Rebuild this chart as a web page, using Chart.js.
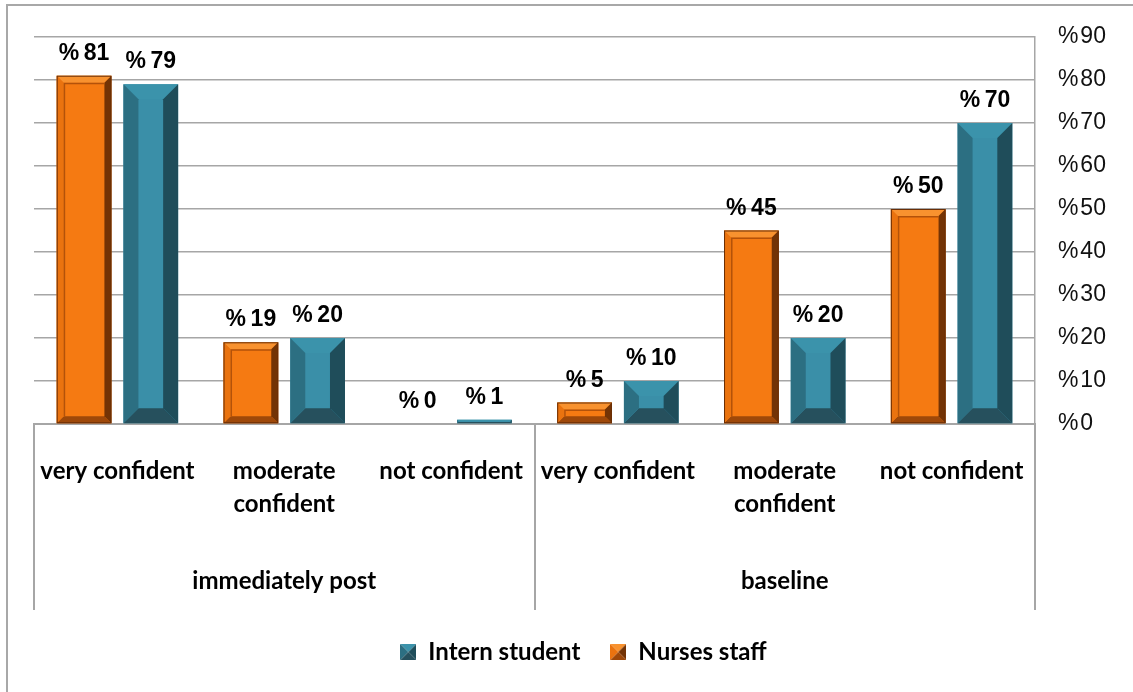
<!DOCTYPE html>
<html>
<head>
<meta charset="utf-8">
<script src="https://cdn.jsdelivr.net/npm/chart.js@4.4.1/dist/chart.umd.min.js"></script>
<style>
  body { margin: 0; background: #fff; }
  #moldura { position: absolute; left: 6px; top: 4px; width: 1300px; height: 900px;
    border-left: 2px solid #a8a8a8; border-top: 2px solid #a8a8a8; }
  canvas { position: absolute; left: 0; top: 0; }
</style>
</head>
<body>
<div id="moldura"></div>
<canvas id="grafico" width="1133" height="692"></canvas>
<script>
const categorias = ['very confident', ['moderate', 'confident'], 'not confident',
  'very confident', ['moderate', 'confident'], 'not confident']
const grupos = ['immediately post', 'baseline']
const nurses = [81, 19, 0, 5, 45, 50]
const interns = [79, 20, 1, 10, 20, 70]
const yTicks = [0, 10, 20, 30, 40, 50, 60, 70, 80, 90]

const laranja = { base: '#f57a12', top: '#f8922f', left: '#ea730f', right: '#733305', bottom: '#9e4809', edge: '#6a2e05', b: 7 }
const azul = { base: '#3a8fa8', top: '#3b93ab', left: '#2c6f82', right: '#1f4d5a', bottom: '#26505d', edge: null, b: 15 }

function poly(ctx, pts, cor) {
    ctx.beginPath()
    ctx.moveTo(pts[0][0], pts[0][1])
    pts.slice(1).forEach(p => ctx.lineTo(p[0], p[1]))
    ctx.closePath()
    ctx.fillStyle = cor
    ctx.fill()
}

function bevel(ctx, l, t, r, bt, st) {
    const h = bt - t
    if (h < 1) return
    const s = Math.min(st.b, h / 2.8, (r - l) / 3)
    poly(ctx, [[l, t], [r, t], [r - s, t + s], [l + s, t + s]], st.top)
    poly(ctx, [[l, bt], [r, bt], [r - s, bt - s], [l + s, bt - s]], st.bottom)
    poly(ctx, [[l, t], [l + s, t + s], [l + s, bt - s], [l, bt]], st.left)
    poly(ctx, [[r, t], [r - s, t + s], [r - s, bt - s], [r, bt]], st.right)
    if (st.edge) {
        ctx.strokeStyle = st.edge
        ctx.lineWidth = 1
        ctx.strokeRect(l + 0.5, t + 0.5, r - l - 1, h - 1)
        if (h > 2 * s + 2) {
            ctx.strokeStyle = '#b3520a'
            ctx.lineWidth = 1.5
            ctx.beginPath()
            ctx.moveTo(l + s + 0.75, bt - s)
            ctx.lineTo(l + s + 0.75, t + s + 0.75)
            ctx.lineTo(r - s, t + s + 0.75)
            ctx.stroke()
        }
    }
}

function marcador(st) {
    const c = document.createElement('canvas')
    c.width = 16
    c.height = 16
    const g = c.getContext('2d')
    poly(g, [[0, 0], [16, 0], [8, 8]], st.top)
    poly(g, [[0, 0], [8, 8], [0, 16]], st.left)
    poly(g, [[16, 0], [16, 16], [8, 8]], st.right)
    poly(g, [[0, 16], [16, 16], [8, 8]], st.bottom)
    return c
}

const estilos = [laranja, azul]
const marcadores = [marcador(laranja), marcador(azul)]

const bevelPlugin = {
    id: 'bevel',
    afterDatasetsDraw(chart) {
        const ctx = chart.ctx
        ctx.save()
        chart.data.datasets.forEach((ds, i) => {
            chart.getDatasetMeta(i).data.forEach(bar => {
                const w = bar.width / 2
                bevel(ctx, bar.x - w, bar.y, bar.x + w, bar.base, estilos[i])
            })
        })
        ctx.restore()
    }
}

const rotulosPlugin = {
    id: 'rotulos',
    afterDatasetsDraw(chart) {
        const ctx = chart.ctx
        ctx.save()
        ctx.font = 'bold 23px "Liberation Sans"'
        ctx.fillStyle = '#000'
        ctx.textAlign = 'center'
        ctx.textBaseline = 'alphabetic'
        chart.data.datasets.forEach((ds, i) => {
            chart.getDatasetMeta(i).data.forEach((bar, j) => {
                ctx.fillText('%\u2009' + ds.data[j], bar.x, bar.y - 16)
            })
        })
        ctx.restore()
    }
}

const divisoriasPlugin = {
    id: 'divisorias',
    afterDraw(chart) {
        const x = chart.scales.x
        const x2 = chart.scales.x2
        const ctx = chart.ctx
        ctx.save()
        ctx.strokeStyle = '#a6a6a6'
        ctx.lineWidth = 2
        ;[-0.5, 2.5, 5.5].forEach(v => {
            const px = Math.round(x.getPixelForValue(v))
            ctx.beginPath()
            ctx.moveTo(px, chart.chartArea.bottom)
            ctx.lineTo(px, x2.bottom)
            ctx.stroke()
        })
        ctx.restore()
    }
}

const fonteCat = { family: 'Lato', weight: 'bold', size: 24, lineHeight: 1.375 }

new Chart(document.getElementById('grafico'), {
    type: 'bar',
    data: {
        labels: categorias,
        datasets: [
            { label: 'Nurses staff', data: nurses, backgroundColor: laranja.base },
            { label: 'Intern student', data: interns, backgroundColor: azul.base }
        ]
    },
    options: {
        responsive: false,
        animation: false,
        categoryPercentage: 0.8,
        barPercentage: 0.82,
        layout: { padding: { top: 37, left: 34, right: 0, bottom: 18 } },
        plugins: {
            tooltip: { enabled: false },
            legend: {
                position: 'bottom',
                reverse: true,
                labels: {
                    usePointStyle: true,
                    boxWidth: 16,
                    boxHeight: 16,
                    padding: 30,
                    color: '#000',
                    font: { family: 'Lato', weight: 'bold', size: 24 },
                    generateLabels: chart => Chart.defaults.plugins.legend.labels.generateLabels(chart)
                        .map(l => ({ ...l, pointStyle: marcadores[l.datasetIndex] }))
                }
            }
        },
        scales: {
            x: {
                grid: { display: false, drawTicks: false },
                border: { display: true, color: '#a6a6a6', width: 2 },
                ticks: { font: fonteCat, color: '#000', padding: 31, maxRotation: 0, autoSkip: false },
                afterFit: s => { s.height = 110 }
            },
            x2: {
                type: 'category',
                position: 'bottom',
                labels: grupos,
                offset: true,
                grid: { display: false, drawTicks: false },
                border: { display: false },
                ticks: { font: fonteCat, color: '#000', padding: 31 },
                afterFit: s => { s.height = 76 }
            },
            y: {
                position: 'right',
                min: 0,
                max: 90,
                grid: { color: '#a6a6a6', lineWidth: 1.5, drawTicks: false },
                border: { display: true, color: '#a6a6a6', width: 1.5 },
                ticks: {
                    padding: 23,
                    color: '#111',
                    font: { family: 'Liberation Sans', size: 23 },
                    callback: v => '%\u200a' + v
                },
                afterBuildTicks: s => { s.ticks = yTicks.map(v => ({ value: v })) },
                afterFit: s => { s.width = 98 }
            }
        }
    },
    plugins: [bevelPlugin, rotulosPlugin, divisoriasPlugin]
})
</script>
</body>
</html>
